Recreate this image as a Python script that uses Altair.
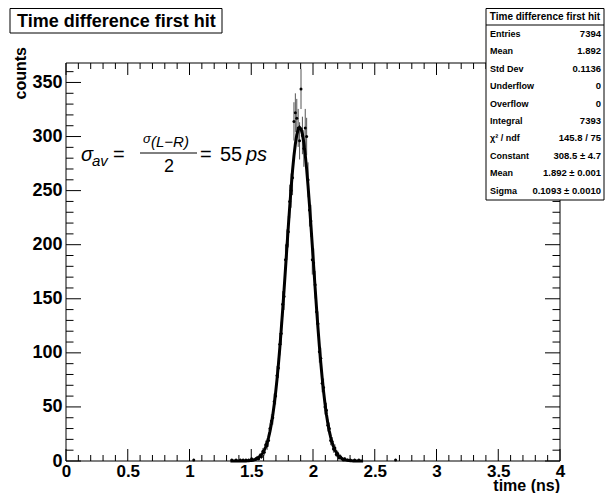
import altair as alt
import pandas as pd

FONT = "Liberation Sans"

# ---------------- data ----------------
NBINS = 350
XMIN, XMAX = 0.0, 4.0
first_bin = 116
counts = [0, 1, 0, 0, 1, 0, 0, 1, 0, 1, 0, 1, 0, 1, 0, 2,
          1, 0, 2, 3, 2, 5, 4, 9, 8, 15, 14, 19, 30,
          37, 40, 55, 60, 79, 86, 108, 118, 145, 152, 186, 200, 212, 240, 250, 262, 314, 322, 317, 308,
          296,
          344, 301, 289, 308, 300, 260, 232, 222, 186, 183, 163, 138, 127, 101, 95, 72, 68, 50, 47, 33,
          30, 19, 18, 11, 12, 6, 7, 3, 4, 2, 1, 2, 0, 1, 0, 1, 0, 0, 1, 0, 0, 1, 0, 0, 0]
extra_bins = [90, 233]
extra_counts = [1, 1]

# fitted gaussian as drawn (values at the bin centres of the fit range)
curve_vals = [0.0, 0.0, 0.0, 0.0, 0.0, 0.0, 0.0, 0.0, 0.0, 0.0, 0.1, 0.1, 0.2, 0.3, 0.4, 0.5,
              0.8, 1.1, 1.6, 2.2, 3.1, 4.2, 5.7, 7.6, 10.0, 13.1, 16.9, 21.6, 27.4, 34.3, 42.4, 52.0,
              63.0, 75.5, 89.4, 104.9, 121.6, 139.5, 158.3, 177.6, 197.2, 216.5, 235.1, 252.6, 268.4,
              282.1, 293.2, 301.5, 306.6,
              308.5,
              307.0, 302.2, 294.2, 283.3, 269.8, 254.2, 236.9, 218.4, 199.1, 179.6, 160.2, 141.3, 123.3,
              106.5, 90.9, 76.8, 64.2, 53.0, 43.3, 35.0, 28.0, 22.1, 17.3, 13.4, 10.3, 7.8, 5.8, 4.3,
              3.2, 2.3, 1.6, 1.2, 0.8,
              0.6, 0.4, 0.3, 0.2, 0.1, 0.1, 0.1, 0.0, 0.0, 0.0, 0.0, 0.0]

x_major = [0, 0.5, 1, 1.5, 2, 2.5, 3, 3.5, 4]
y_major = [0, 50, 100, 150, 200, 250, 300, 350]

title_text = "Time difference first hit"
stats_title = "Time difference first hit"
stats_labels = ["Entries", "Mean", "Std Dev", "Underflow", "Overflow", "Integral",
                "\u03c7\u00b2 / ndf", "Constant", "Mean", "Sigma"]
stats_values = ["7394", "1.892", "0.1136", "0", "0", "7393",
                "145.8 / 75", "308.5 \u00b1 4.7", "1.892 \u00b1 0.001", "0.1093 \u00b1 0.0010"]

# ---------------- tables ----------------
bw = (XMAX - XMIN) / NBINS
bins_all = list(range(first_bin, first_bin + len(counts))) + extra_bins
cnt_all = counts + extra_counts
rows = []
for b, c in zip(bins_all, cnt_all):
    if c > 0:
        e = c ** 0.5
        rows.append({"x": XMIN + (b + 0.5) * bw, "y": c, "lo": c - e, "hi": c + e})
hist = pd.DataFrame(rows)
curve = pd.DataFrame({"x": [XMIN + (first_bin + i + 0.5) * bw for i in range(len(curve_vals))],
                      "y": curve_vals})

x_minor = [round(i * 0.1, 2) for i in range(41) if i % 5 != 0]
y_minor = [i * 10 for i in range(1, 37) if i % 5 != 0]

W, H = 494, 398
PL, PT = 58, 55
PR, PB = 597 - PL - W, 485 - PT - H
xs = alt.Scale(domain=[XMIN, XMAX], nice=False, zero=False)
ys = alt.Scale(domain=[0, 368], nice=False, zero=True)
AX = alt.Axis(values=x_major, format="~r", labelFont=FONT, labelFontWeight="bold",
              labelFontSize=17, labelColor="black", labelPadding=2,
              domain=False, ticks=False, grid=False,
              title=None, labelFlush=False, labelOverlap=False)
AY = alt.Axis(values=y_major, format="d", labelFont=FONT, labelFontWeight="bold",
              labelFontSize=18, labelColor="black", labelPadding=4,
              domain=False, ticks=False, grid=False,
              title=None, labelFlush=False, labelOverlap=False)

one = pd.DataFrame({"a": [0]})

err = alt.Chart(hist).mark_rule(color="#555555", strokeWidth=1).encode(
    x=alt.X("x:Q", scale=xs, axis=AX),
    y=alt.Y("lo:Q", scale=ys, axis=AY),
    y2="hi:Q",
)
pts = alt.Chart(hist).mark_circle(size=9, color="black", opacity=1).encode(
    x=alt.X("x:Q", scale=xs, axis=AX), y=alt.Y("y:Q", scale=ys, axis=AY))
fit = alt.Chart(curve).mark_line(color="black", strokeWidth=3).encode(
    x=alt.X("x:Q", scale=xs, axis=AX), y=alt.Y("y:Q", scale=ys, axis=AY))

def xticks(vals, length):
    d = pd.DataFrame({"v": vals})
    bot = alt.Chart(d).mark_rule(color="black", strokeWidth=1).encode(
        x=alt.X("v:Q", scale=xs, axis=AX), y=alt.value(H), y2=alt.value(H - length))
    top = alt.Chart(d).mark_rule(color="black", strokeWidth=1).encode(
        x=alt.X("v:Q", scale=xs, axis=AX), y=alt.value(0), y2=alt.value(length))
    return [bot, top]

def yticks(vals, length):
    d = pd.DataFrame({"v": vals})
    left = alt.Chart(d).mark_rule(color="black", strokeWidth=1).encode(
        y=alt.Y("v:Q", scale=ys, axis=AY), x=alt.value(0), x2=alt.value(length))
    right = alt.Chart(d).mark_rule(color="black", strokeWidth=1).encode(
        y=alt.Y("v:Q", scale=ys, axis=AY), x=alt.value(W), x2=alt.value(W - length))
    return [left, right]

def box(x1, y1, x2, y2, fill="white"):
    m = alt.Chart(one).mark_rect(fill=fill, stroke="black", strokeWidth=1) if fill else \
        alt.Chart(one).mark_rect(fillOpacity=0, stroke="black", strokeWidth=1)
    return m.encode(x=alt.value(x1), x2=alt.value(x2), y=alt.value(y1), y2=alt.value(y2))

def txt(s, x, y, size, align="left", weight="normal", style="normal", baseline="alphabetic", angle=0):
    return alt.Chart(one).mark_text(text=s, align=align, baseline=baseline, fontSize=size,
                                    fontWeight=weight, fontStyle=style, font=FONT, angle=angle,
                                    color="black").encode(x=alt.value(x), y=alt.value(y))

def hline(x1, x2, y):
    return alt.Chart(one).mark_rule(color="black", strokeWidth=1).encode(
        x=alt.value(x1), x2=alt.value(x2), y=alt.value(y))

layers = [err, pts, fit]
layers += xticks(x_major, 12) + xticks(x_minor, 6)
layers += yticks(y_major, 15) + yticks(y_minor, 7.5)
layers.append(box(0, 0, W, H, fill=None))

# axis titles
layers.append(txt("counts", -45, -16, 16, align="right", weight="bold", baseline="middle", angle=270))
layers.append(txt("time (ns)", W, 428, 16, align="right", weight="bold", baseline="alphabetic"))

# formula
fy = 98
layers.append(txt("\u03c3", 15, fy, 20, style="italic"))
layers.append(txt("av", 26, fy + 5, 15, style="italic"))
layers.append(txt("=", 47, fy, 20))
layers.append(txt("\u03c3", 77, fy - 18, 13, style="italic"))
layers.append(txt("(L\u2212R)", 85, fy - 14, 15, style="italic"))
layers.append(hline(74, 131, fy - 8))
layers.append(txt("2", 98, fy + 11, 18))
layers.append(txt("=", 134, fy, 20))
layers.append(txt("55", 154, fy, 20))
layers.append(txt("ps", 180, fy, 20, style="italic"))

# title box
layers.append(box(-56, -54.5, 156, -30))
layers.append(txt(title_text, -49, -36, 18, weight="bold"))

# stats box
sx1, sx2, sy1, sy2 = 420, 538, -54.5, 137
layers.append(box(sx1, sy1, sx2, sy2))
layers.append(hline(sx1, sx2, -38))
layers.append(txt(stats_title, (sx1 + sx2) / 2, -43, 10, align="center", weight="bold"))
row0, step = -26, 17.4
for i, (lab, val) in enumerate(zip(stats_labels, stats_values)):
    yy = row0 + i * step
    layers.append(txt(lab, sx1 + 4, yy, 9, weight="bold"))
    layers.append(txt(val, sx2 - 3, yy, 9.5, align="right", weight="bold"))

chart = alt.layer(*layers).properties(
    width=W, height=H,
    autosize=alt.AutoSizeParams(type="none"),
    padding={"left": PL, "top": PT, "right": PR, "bottom": PB},
    background="white",
).configure_view(stroke="transparent")

chart.save("out.html", embed_options={"renderer": "svg", "actions": False})
